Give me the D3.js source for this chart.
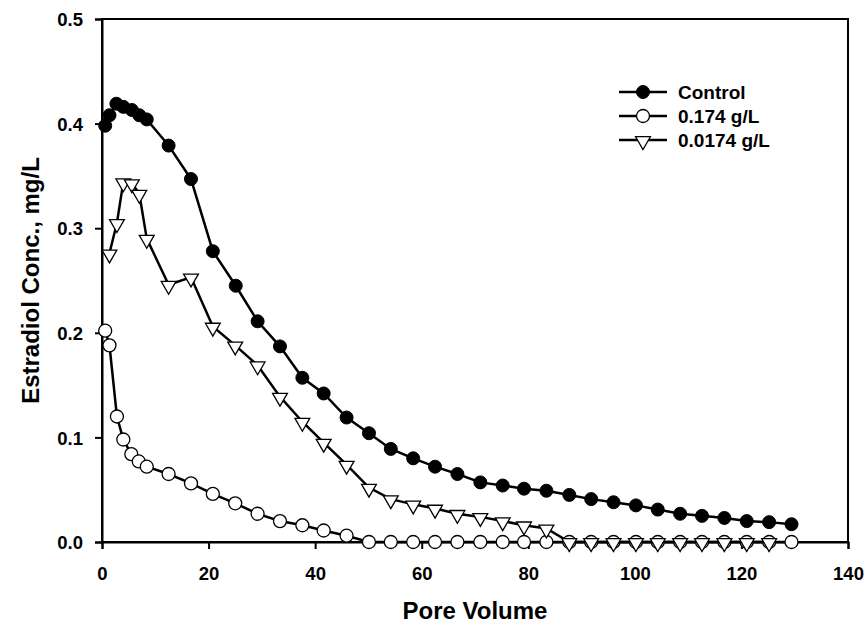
<!DOCTYPE html>
<html><head><meta charset="utf-8">
<script src="https://cdn.jsdelivr.net/npm/d3@7"></script>
<style>
body{margin:0;background:#fff;}
text{font-family:"Liberation Sans",Arial,sans-serif;font-weight:bold;}
</style></head>
<body><svg id="c" width="868" height="630"></svg>
<script>
const controlX = [0.6,1.4,2.7,4.0,5.6,7.0,8.4,12.5,16.7,20.8,25.1,29.2,33.4,37.6,41.6,45.9,50.1,54.2,58.4,62.5,66.7,71.0,75.2,79.2,83.4,87.7,91.8,96.0,100.2,104.3,108.5,112.6,116.8,121.0,125.2,129.4];
const controlY = [0.398,0.408,0.419,0.416,0.413,0.408,0.404,0.379,0.347,0.278,0.245,0.211,0.187,0.157,0.142,0.119,0.104,0.089,0.080,0.072,0.065,0.057,0.054,0.051,0.049,0.045,0.041,0.038,0.035,0.031,0.027,0.025,0.023,0.020,0.019,0.017];
const highX = [0.6,1.4,2.8,4.0,5.5,6.9,8.4,12.5,16.7,20.8,25.0,29.2,33.4,37.6,41.6,45.9,50.1,54.2,58.4,62.5,66.7,71.0,75.2,79.2,83.4,87.7,91.8,96.0,100.2,104.3,108.5,112.6,116.8,121.0,125.2,129.4];
const highY = [0.202,0.188,0.120,0.098,0.084,0.077,0.072,0.065,0.056,0.046,0.037,0.027,0.020,0.016,0.011,0.006,0,0,0,0,0,0,0,0,0,0,0,0,0,0,0,0,0,0,0,0];
const lowX = [1.4,2.8,4.0,5.6,7.0,8.4,12.5,16.7,20.8,25.0,29.2,33.4,37.6,41.6,45.9,50.1,54.2,58.4,62.5,66.7,71.0,75.2,79.2,83.4,87.7,91.8,96.0,100.2,104.3,108.5,112.6,116.8,121.0,125.2];
const lowY = [0.276,0.305,0.344,0.343,0.333,0.290,0.246,0.253,0.206,0.188,0.169,0.139,0.115,0.095,0.074,0.052,0.041,0.036,0.032,0.027,0.024,0.020,0.016,0.013,0,0,0,0,0,0,0,0,0,0];
const seriesNames = ["Control","0.174 g/L","0.0174 g/L"];
const xTicks = [0,20,40,60,80,100,120,140];
const yTicks = [0.0,0.1,0.2,0.3,0.4,0.5];

const svg = d3.select("#c");
const L=102, R=848, T=19, B=542;
const x = d3.scaleLinear().domain([0,140]).range([L,R]);
const y = d3.scaleLinear().domain([0,0.5]).range([B,T]);

svg.append("rect").attr("x",L).attr("y",T).attr("width",R-L).attr("height",B-T)
  .attr("fill","none").attr("stroke","#000").attr("stroke-width",2);

const xa = svg.append("g").attr("transform",`translate(0,${B})`)
  .call(d3.axisBottom(x).tickValues(xTicks).tickFormat(d3.format("d")).tickSize(7).tickPadding(18));
const ya = svg.append("g").attr("transform",`translate(${L},0)`)
  .call(d3.axisLeft(y).tickValues(yTicks).tickFormat(d3.format(".1f")).tickSize(7).tickPadding(12));
[xa,ya].forEach(g=>{
  g.select(".domain").attr("stroke-width",2);
  g.selectAll(".tick line").attr("stroke-width",2);
  g.selectAll("text").attr("font-size",18.5).attr("font-weight","bold")
    .attr("font-family","'Liberation Sans',Arial,sans-serif").attr("fill","#000");
});
ya.selectAll("text").attr("dy","0.36em");

svg.append("text").attr("x",(L+R)/2).attr("y",619).attr("text-anchor","middle")
  .attr("font-size",24).text("Pore Volume");
svg.append("text").attr("transform",`translate(39,${(T+B)/2}) rotate(-90)`)
  .attr("text-anchor","middle").attr("font-size",24).text("Estradiol Conc., mg/L");

const tri = d3.symbol().type(d3.symbolTriangle).size(95);
function drawMarker(g, kind, cx, cy){
  if(kind===0) g.append("circle").attr("cx",cx).attr("cy",cy).attr("r",6.5).attr("fill","#000").attr("stroke","#000").attr("stroke-width",1);
  else if(kind===1) g.append("circle").attr("cx",cx).attr("cy",cy).attr("r",6.5).attr("fill","#fff").attr("stroke","#000").attr("stroke-width",1.3);
  else g.append("path").attr("d",tri).attr("transform",`translate(${cx},${cy+1}) rotate(180)`).attr("fill","#fff").attr("stroke","#000").attr("stroke-width",1.3);
}

const series = [[controlX,controlY],[highX,highY],[lowX,lowY]];
const line = d3.line().x(d=>x(d[0])).y(d=>y(d[1]));
series.forEach((s,k)=>{
  const pts = s[0].map((v,i)=>[v,s[1][i]]);
  const g = svg.append("g");
  g.append("path").attr("d",line(pts)).attr("fill","none").attr("stroke","#000").attr("stroke-width",2.5);
  pts.forEach(p=>drawMarker(g,k,x(p[0]),y(p[1])));
});

const lg = svg.append("g");
seriesNames.forEach((n,k)=>{
  const yy = 92 + k*24;
  lg.append("line").attr("x1",619).attr("x2",667).attr("y1",yy).attr("y2",yy).attr("stroke","#000").attr("stroke-width",2.5);
  drawMarker(lg,k,643,yy);
  lg.append("text").attr("x",678).attr("y",yy).attr("dy","0.36em").attr("font-size",19).text(n);
});
</script></body></html>
